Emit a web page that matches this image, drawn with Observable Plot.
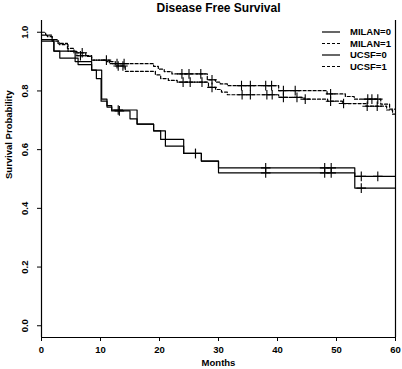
<!DOCTYPE html>
<html><head><meta charset="utf-8">
<script src="https://cdn.jsdelivr.net/npm/d3@7"></script>
<script src="https://cdn.jsdelivr.net/npm/@observablehq/plot@0.6"></script>
<style>body{margin:0;background:#fff}</style>
</head><body><div id="chart"></div>
<script>
const chartTitle = "Disease Free Survival";
const xLabel = "Months";
const yLabel = "Survival Probability";
const xTicks = [0, 10, 20, 30, 40, 50, 60];
const yTicks = [0, 0.2, 0.4, 0.6, 0.8, 1.0];
const endTime = 60;

const milan0Time = [0, 2.1, 5.7, 8.5, 10.2, 11.1, 11.9, 16.2, 19, 20.2, 24.1, 27.1, 30, 53.1];
const milan0Surv = [0.975, 0.936, 0.9, 0.871, 0.772, 0.75, 0.735, 0.687, 0.664, 0.635, 0.587, 0.561, 0.538, 0.509];
const milan0Censor = [13, 26.1, 38, 48, 49.1, 54.2, 57];

const ucsf0Time = [0, 2.1, 3.1, 6.2, 8.5, 9.3, 10.1, 11.1, 11.9, 15, 16.2, 19, 21, 24.1, 27.1, 30, 53.1];
const ucsf0Surv = [0.97, 0.936, 0.912, 0.89, 0.871, 0.842, 0.765, 0.745, 0.732, 0.705, 0.687, 0.664, 0.612, 0.587, 0.561, 0.521, 0.469];
const ucsf0Censor = [13.2, 26.1, 38, 48, 49.1, 54.2];

const milan1Time = [0, 0.7, 1.8, 2.8, 4.4, 5.5, 7.5, 8.5, 11.5, 19, 19.8, 20.8, 22.1, 28.1, 29.5, 30.3, 31.5, 40.2, 48.4, 51.5, 53, 57.5, 59];
const milan1Surv = [1.0, 0.99, 0.975, 0.962, 0.945, 0.93, 0.918, 0.905, 0.893, 0.884, 0.874, 0.866, 0.858, 0.838, 0.83, 0.824, 0.818, 0.801, 0.79, 0.781, 0.772, 0.755, 0.738];
const milan1Censor = [6.9, 11, 12.8, 14, 23.8, 25, 27, 28.9, 33.9, 35.4, 38, 39, 41, 43, 49, 55.3, 56, 57];

const ucsf1Time = [0, 1, 1.8, 3, 4.5, 6, 8.5, 11, 12.5, 14.2, 19.3, 20.2, 21.5, 23, 28.3, 29.5, 30.5, 31.5, 40.2, 44.5, 48.5, 51, 55, 58.5, 59.5];
const ucsf1Surv = [0.99, 0.985, 0.97, 0.958, 0.935, 0.92, 0.905, 0.9, 0.885, 0.867, 0.855, 0.842, 0.836, 0.83, 0.812, 0.805, 0.796, 0.787, 0.778, 0.772, 0.765, 0.757, 0.748, 0.735, 0.721];
const ucsf1Censor = [6.6, 13, 13.8, 24, 25.2, 27.2, 28.9, 34, 35.4, 38.2, 39.1, 41, 43.3, 44.7, 49, 51.2, 55.2, 56.9];

const seriesNames = ["MILAN=0", "MILAN=1", "UCSF=0", "UCSF=1"];
const seriesDashed = [false, true, false, true];

const seriesInput = [
  [milan0Time, milan0Surv, milan0Censor],
  [milan1Time, milan1Surv, milan1Censor],
  [ucsf0Time, ucsf0Surv, ucsf0Censor],
  [ucsf1Time, ucsf1Surv, ucsf1Censor]
];

function stepAt(times, surv, t) {
  let v = surv[0];
  for (let i = 0; i < times.length; i++) if (times[i] <= t) v = surv[i];
  return v;
}

const solidRows = [], dashedRows = [], censorRows = [];
seriesInput.forEach(([times, surv, cens], k) => {
  const target = seriesDashed[k] ? dashedRows : solidRows;
  times.forEach((t, i) => target.push({series: seriesNames[k], time: t, surv: surv[i]}));
  target.push({series: seriesNames[k], time: endTime, surv: surv[surv.length - 1]});
  cens.forEach(c => censorRows.push({series: seriesNames[k], time: c, surv: stepAt(times, surv, c)}));
});

const DASH = "3,2";

function legendMark(index, scales, values, dims) {
  const g = d3.create("svg:g")
    .attr("font-family", "'Liberation Sans', Arial, sans-serif")
    .attr("font-size", 9.5).attr("font-weight", "bold").attr("text-anchor", "start");
  const right = dims.width - dims.marginRight;
  seriesNames.forEach((lab, i) => {
    const y = dims.marginTop + 12 + i * 11.5;
    g.append("line").attr("x1", right - 73).attr("x2", right - 55)
      .attr("y1", y).attr("y2", y).attr("stroke", "#000").attr("stroke-width", 1.2)
      .attr("stroke-dasharray", seriesDashed[i] ? DASH : null);
    g.append("text").attr("x", right - 45).attr("y", y).attr("dy", "0.35em").attr("fill", "#000").text(lab);
  });
  return g.node();
}

const plot = Plot.plot({
  width: 402, height: 369,
  marginLeft: 41, marginRight: 7, marginTop: 20, marginBottom: 32,
  style: {fontFamily: "'Liberation Sans', Arial, sans-serif", fontSize: "9.5px", fontWeight: "bold", background: "#fff", color: "#000"},
  x: {domain: [0, endTime]},
  y: {domain: [-0.04, 1.04]},
  marks: [
    Plot.axisX({ticks: xTicks, tickSize: 4, tickPadding: 5, label: null, stroke: "#000"}),
    Plot.axisY({ticks: yTicks, tickSize: 4, tickRotate: -90, tickPadding: 10, tickFormat: d3.format(".1f"), label: null, stroke: "#000"}),
    Plot.ruleX([0, endTime], {stroke: "#000", strokeWidth: 1.2}),
    Plot.ruleY([-0.04], {stroke: "#000", strokeWidth: 1.2}),
    Plot.line(solidRows, {x: "time", y: "surv", z: "series", curve: "step-after", stroke: "#000", strokeWidth: 1.2}),
    Plot.line(dashedRows, {x: "time", y: "surv", z: "series", curve: "step-after", stroke: "#000", strokeWidth: 1.2, strokeDasharray: DASH}),
    Plot.dot(censorRows, {x: "time", y: "surv", symbol: "plus", r: 3.2, stroke: "#000", strokeWidth: 1.1}),
    Plot.text([chartTitle], {text: d => d, frameAnchor: "top", dy: -12, fontSize: 12, fontWeight: "bold", lineAnchor: "middle"}),
    Plot.text([xLabel], {text: d => d, frameAnchor: "bottom", dy: 25.5, lineAnchor: "middle"}),
    Plot.text([yLabel], {text: d => d, frameAnchor: "left", dx: -33, rotate: -90, lineAnchor: "middle"}),
    legendMark
  ]
});
document.getElementById("chart").append(plot);
</script>
</body></html>
